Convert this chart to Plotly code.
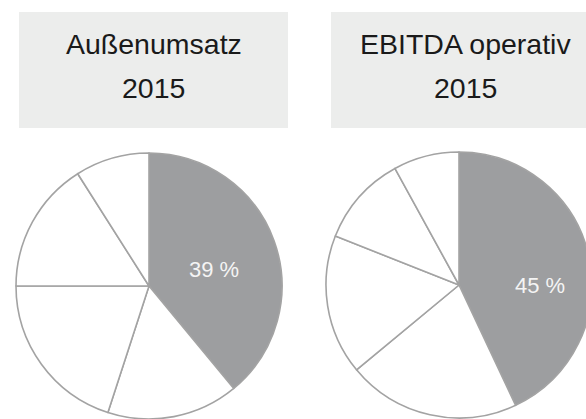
import plotly.graph_objects as go

# Data
segments = ["Segment 1", "Segment 2", "Segment 3", "Segment 4", "Segment 5"]
umsatz_shares = [39, 16, 20, 16, 9]
ebitda_shares = [43, 21, 17, 11, 8]
highlight_labels = ["39 %", "45 %"]
titles = [["Außenumsatz", "2015"], ["EBITDA operativ", "2015"]]

W, H = 600, 425
def px(x):
    return x / W
def py(y):
    return 1 - y / H

gray = "#9d9ea0"
fills = [gray, "white", "white", "white", "white"]
edge = dict(color="#a3a3a3", width=1.6)
font = "Liberation Sans, Arial"

fig = go.Figure()
pie_domains = [
    dict(x=[px(16), px(282)], y=[py(419), py(153)]),
    dict(x=[px(326), px(592)], y=[py(418), py(152)]),
]
for shares, dom in zip([umsatz_shares, ebitda_shares], pie_domains):
    fig.add_trace(go.Pie(
        labels=segments, values=shares, textinfo="none",
        sort=False, direction="clockwise", rotation=0,
        marker=dict(colors=fills, line=edge),
        domain=dom, hoverinfo="label+percent", showlegend=False,
    ))

boxes = [(19, 288), (331, 600)]
label_pos = [(213.5, 269.5), (540, 285)]
shapes = []
annotations = []
for (x0, x1), lines in zip(boxes, titles):
    shapes.append(dict(type="rect", xref="paper", yref="paper",
                       x0=px(x0), x1=px(x1), y0=py(128), y1=py(12),
                       fillcolor="#ecedec", line=dict(width=0), layer="below"))
    for i, line in enumerate(lines):
        annotations.append(dict(text=line, xref="paper", yref="paper",
                                x=px((x0 + x1) / 2), y=py(44 + 44 * i),
                                xanchor="center", yanchor="middle", showarrow=False,
                                font=dict(family=font, size=28.5, color="#1a1a1a")))
for (lx, ly), lab in zip(label_pos, highlight_labels):
    annotations.append(dict(text=lab, xref="paper", yref="paper",
                            x=px(lx), y=py(ly), xanchor="center", yanchor="middle",
                            showarrow=False,
                            font=dict(family=font, size=22, color="#f4f4f4")))

fig.update_layout(width=W, height=H, margin=dict(l=0, r=0, t=0, b=0),
                  paper_bgcolor="white", plot_bgcolor="white",
                  shapes=shapes, annotations=annotations)

fig.write_html("out.html", config={"displayModeBar": False},
               post_script="document.body.style.margin='0';document.body.style.overflow='hidden';")
